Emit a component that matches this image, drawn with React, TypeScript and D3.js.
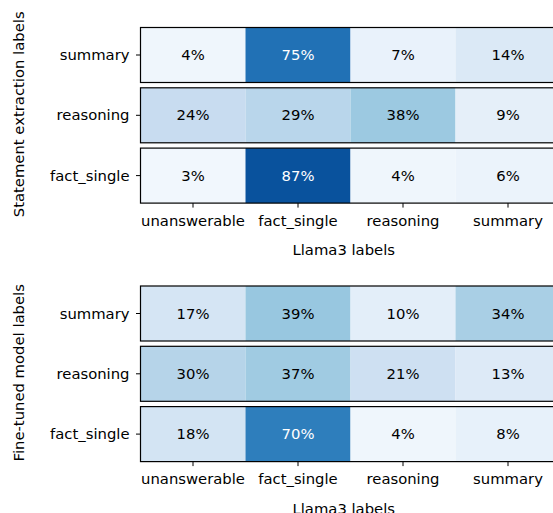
import React from "react";
import * as d3 from "d3";

const xCategories = ["unanswerable", "fact_single", "reasoning", "summary"];
const yCategories = ["summary", "reasoning", "fact_single"];
const topValues = [
  [4, 75, 7, 14],
  [24, 29, 38, 9],
  [3, 87, 4, 6],
];
const bottomValues = [
  [17, 39, 10, 34],
  [30, 37, 21, 13],
  [18, 70, 4, 8],
];
const panelTitles = ["Statement extraction labels", "Fine-tuned model labels"];
const xAxisTitle = "Llama3 labels";

const bluesStops = ["#f7fbff", "#deebf7", "#c6dbef", "#9ecae1", "#6baed6", "#4292c6", "#2171b5", "#08519c", "#08306b"];
const color = d3
  .scaleLinear<string>()
  .domain(bluesStops.map((_, i) => (i / (bluesStops.length - 1)) * 100))
  .range(bluesStops)
  .interpolate(d3.interpolateRgb);

const FONT = "DejaVu Sans, sans-serif";
const FS = 14.8;

function Panel({ top, values, ylabel }: { top: number; values: number[][]; ylabel: string }) {
  const left = 140.5;
  const cellW = 105;
  const rowH = 55;
  const gap = 5.3;
  const x = d3.scaleBand().domain(xCategories).range([left, left + cellW * 4]);
  const rowTop = (i: number) => top + i * (rowH + gap);
  const bottom = rowTop(2) + rowH;
  const midY = (top + bottom) / 2;
  return (
    <g>
      {values.map((row, i) => (
        <g key={i}>
          {row.map((v, j) => (
            <g key={j}>
              <rect x={x(xCategories[j])} y={rowTop(i)} width={x.bandwidth()} height={rowH} fill={color(v)} />
              <text
                x={x(xCategories[j])! + x.bandwidth() / 2}
                y={rowTop(i) + rowH / 2}
                dy="0.35em"
                textAnchor="middle"
                fontFamily={FONT}
                fontSize={FS}
                fill={v > 50 ? "white" : "black"}
              >
                {v}%
              </text>
            </g>
          ))}
          <rect x={left} y={rowTop(i)} width={cellW * 4} height={rowH} fill="none" stroke="black" strokeWidth={1.2} />
          <line x1={left - 4.5} x2={left} y1={rowTop(i) + rowH / 2} y2={rowTop(i) + rowH / 2} stroke="black" />
          <text
            x={left - 11}
            y={rowTop(i) + rowH / 2}
            dy="0.35em"
            textAnchor="end"
            fontFamily={FONT}
            fontSize={FS}
          >
            {yCategories[i]}
          </text>
        </g>
      ))}
      {xCategories.map((c) => (
        <g key={c}>
          <line x1={x(c)! + x.bandwidth() / 2} x2={x(c)! + x.bandwidth() / 2} y1={bottom} y2={bottom + 4.5} stroke="black" />
          <text x={x(c)! + x.bandwidth() / 2} y={bottom + 22.5} textAnchor="middle" fontFamily={FONT} fontSize={FS}>
            {c}
          </text>
        </g>
      ))}
      <text x={(left + 553) / 2 - 3} y={bottom + 52} textAnchor="middle" fontFamily={FONT} fontSize={FS}>
        {xAxisTitle}
      </text>
      <text
        transform={`translate(23.5,${midY - 1}) rotate(-90)`}
        textAnchor="middle"
        fontFamily={FONT}
        fontSize={FS}
      >
        {ylabel}
      </text>
    </g>
  );
}

export default function App() {
  return (
    <svg width={553} height={513} style={{ position: "absolute", left: 0, top: 0, background: "white" }}>
      <rect width={553} height={513} fill="white" />
      <Panel top={27.5} values={topValues} ylabel={panelTitles[0]} />
      <Panel top={286} values={bottomValues} ylabel={panelTitles[1]} />
    </svg>
  );
}
